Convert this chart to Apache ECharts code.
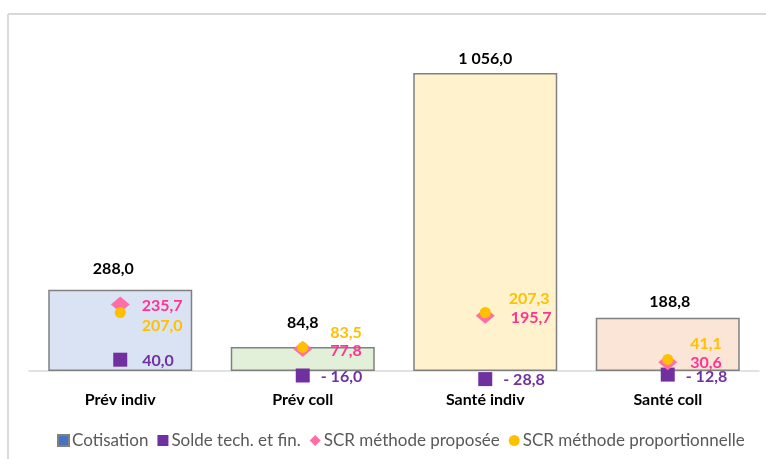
<!DOCTYPE html>
<html>
<head>
<meta charset="utf-8">
<script src="https://cdn.jsdelivr.net/npm/echarts@6/dist/echarts.min.js"></script>
<style>
  html, body { margin: 0; padding: 0; background: #fff; }
  #chart { width: 766px; height: 459px; }
</style>
</head>
<body>
<div id="chart"></div>
<script>
// Lines of business
var categories = ['Prév indiv', 'Prév coll', 'Santé indiv', 'Santé coll'];

// Values per line of business
var cotisation = [288.0, 84.8, 1056.0, 188.8];
var solde = [40.0, -16.0, -28.8, -12.8];
var scrProposee = [235.7, 77.8, 195.7, 30.6];
var scrProportionnelle = [207.0, 83.5, 207.3, 41.1];

var seriesNames = ['Cotisation', 'Solde tech. et fin.', 'SCR méthode proposée', 'SCR méthode proportionnelle'];

// Bar fills per category
var barFills = ['#dae3f3', '#e2f0d9', '#fff2cc', '#fbe5d6'];

// Label placement tweaks [dx, dy] per category
var barLabelGap = [13, 16, 6, 8];
var barLabelDx = [-7, 0, 0, 2];
var soldeLabelOff = [[15, 1], [11, 1], [11, 1], [11, 2]];
var propLabelOff = [[12, 1.5], [18, 2], [16, 2], [13, 0]];
var proportLabelOff = [[16, 13], [22, -15], [18, -14], [17, -16]];

var FONT = 'Lato';
var LABEL_SIZE = 16;

function fmt(v) {
  var s = Math.abs(v).toFixed(1).split('.');
  var intPart = s[0].replace(/\B(?=(\d{3})+(?!\d))/g, ' ');
  var out = intPart + ',' + s[1];
  return v < 0 ? '- ' + out : out;
}

function labelled(values, offs, color) {
  return values.map(function (v, i) {
    return {
      value: v,
      label: {
        show: true,
        position: 'right',
        distance: 0,
        offset: offs[i],
        formatter: fmt(v),
        color: color,
        fontFamily: FONT,
        fontWeight: 'bold',
        fontSize: LABEL_SIZE
      }
    };
  });
}

var chart = echarts.init(document.getElementById('chart'), null, { renderer: 'canvas' });

chart.setOption({
  animation: false,
  backgroundColor: '#ffffff',
  textStyle: { fontFamily: FONT },
  graphic: [
    { type: 'line', shape: { x1: 8, y1: 14, x2: 8, y2: 459 }, style: { stroke: '#d9d9d9', lineWidth: 2 } },
    { type: 'line', shape: { x1: 8, y1: 14, x2: 766, y2: 14 }, style: { stroke: '#d9d9d9', lineWidth: 2 } }
  ],
  grid: { left: 29, right: 7, top: 60.6, bottom: 59.8, containLabel: false },
  legend: {
    bottom: 5,
    left: 52,
    itemWidth: 11,
    itemHeight: 11,
    itemGap: 9,
    textStyle: { color: '#595959', fontSize: 17, fontFamily: FONT, padding: [0, 0, 0, -2] },
    data: [
      { name: seriesNames[0], icon: 'rect' },
      { name: seriesNames[1], icon: 'rect' },
      { name: seriesNames[2], icon: 'diamond' },
      { name: seriesNames[3], icon: 'circle' }
    ]
  },
  xAxis: {
    type: 'category',
    data: categories,
    axisLine: { show: true, onZero: true, lineStyle: { color: '#d9d9d9', width: 1.5 } },
    axisTick: { show: false },
    axisLabel: { margin: -7, color: '#000', fontWeight: 'bold', fontSize: LABEL_SIZE, fontFamily: FONT }
  },
  yAxis: {
    type: 'value',
    min: -100,
    max: 1100,
    show: false,
    splitLine: { show: false }
  },
  series: [
    {
      name: seriesNames[0],
      type: 'bar',
      barWidth: 144,
      itemStyle: { color: '#4472c4', borderColor: '#808080', borderWidth: 1.5 },
      data: cotisation.map(function (v, i) {
        return {
          value: v,
          itemStyle: { color: barFills[i], borderColor: '#808080', borderWidth: 1.5 },
          label: {
            show: true,
            position: 'top',
            distance: barLabelGap[i],
            offset: [barLabelDx[i], 0],
            formatter: fmt(v),
            color: '#000',
            fontFamily: FONT,
            fontWeight: 'bold',
            fontSize: LABEL_SIZE
          }
        };
      })
    },
    {
      name: seriesNames[1],
      type: 'scatter',
      symbol: 'rect',
      symbolSize: 14,
      itemStyle: { color: '#7030a0', opacity: 1 },
      data: labelled(solde, soldeLabelOff, '#7030a0')
    },
    {
      name: seriesNames[2],
      type: 'scatter',
      symbol: 'diamond',
      symbolSize: [19, 16],
      itemStyle: { color: '#ff6fa6', opacity: 1 },
      data: labelled(scrProposee, propLabelOff, '#ff3390')
    },
    {
      name: seriesNames[3],
      type: 'scatter',
      symbol: 'circle',
      symbolSize: 11,
      itemStyle: { color: '#ffc000', opacity: 1 },
      data: labelled(scrProportionnelle, proportLabelOff, '#ffc000')
    }
  ]
});
</script>
</body>
</html>
